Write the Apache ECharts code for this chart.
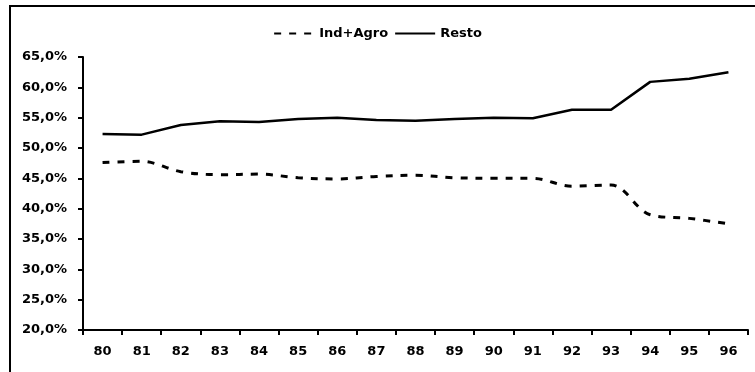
<!DOCTYPE html>
<html>
<head>
<meta charset="utf-8">
<script src="https://cdn.jsdelivr.net/npm/echarts@6/dist/echarts.min.js"></script>
<style>
  html, body { margin: 0; padding: 0; background: #fff; }
  #chart { width: 755px; height: 372px; }
</style>
</head>
<body>
<div id="chart"></div>
<script>
// Years (two-digit) on the category axis
const years = ['80','81','82','83','84','85','86','87','88','89','90','91','92','93','94','95','96'];
// Share of total, in percent
const indAgro = [47.6, 47.8, 46.1, 45.6, 45.7, 45.1, 44.9, 45.3, 45.5, 45.1, 45.0, 45.0, 43.7, 43.9, 39.0, 38.4, 37.5];
const resto  = [52.3, 52.2, 53.8, 54.4, 54.3, 54.8, 55.0, 54.6, 54.5, 54.8, 55.0, 54.9, 56.3, 56.3, 60.9, 61.4, 62.5];
// Value axis range
const yMin = 20, yMax = 65, yStep = 5;

const font = 'DejaVu Sans';
const chart = echarts.init(document.getElementById('chart'), null, { renderer: 'canvas' });

chart.setOption({
  animation: false,
  backgroundColor: '#fff',
  graphic: [{
    type: 'rect',
    shape: { x: 10, y: 6, width: 900, height: 500 },
    style: { fill: 'none', stroke: '#000', lineWidth: 2 },
    silent: true
  }],
  legend: {
    top: 22,
    left: 'center',
    itemWidth: 40,
    itemHeight: 12,
    itemGap: 6,
    itemStyle: { opacity: 0, borderWidth: 0 },
    textStyle: { fontFamily: font, fontWeight: 'bold', fontSize: 13, color: '#000' },
    data: ['Ind+Agro', 'Resto']
  },
  grid: { left: 83, right: 7, top: 57, bottom: 42, containLabel: false },
  xAxis: {
    type: 'category',
    data: years,
    boundaryGap: true,
    axisLine: { lineStyle: { color: '#000', width: 2 } },
    axisTick: { show: true, length: 5, lineStyle: { color: '#000', width: 2 } },
    axisLabel: { margin: 15, color: '#000', fontFamily: font, fontWeight: 'bold', fontSize: 13 },
    splitLine: { show: false }
  },
  yAxis: {
    type: 'value',
    min: yMin,
    max: yMax,
    interval: yStep,
    axisLine: { show: true, lineStyle: { color: '#000', width: 2 } },
    axisTick: { show: true, length: 5, lineStyle: { color: '#000', width: 2 } },
    axisLabel: {
      margin: 16,
      padding: [6, 0, 0, 0],
      color: '#000',
      fontFamily: font,
      fontWeight: 'bold',
      fontSize: 13,
      formatter: v => v.toFixed(1).replace('.', ',') + '%'
    },
    splitLine: { show: false }
  },
  series: [
    {
      name: 'Ind+Agro',
      type: 'line',
      data: indAgro,
      smooth: 0.35,
      symbol: 'none',
      lineStyle: { color: '#000', width: 3, type: [7, 8] },
      itemStyle: { color: '#000' }
    },
    {
      name: 'Resto',
      type: 'line',
      data: resto,
      symbol: 'none',
      lineStyle: { color: '#000', width: 2.5, type: 'solid' },
      itemStyle: { color: '#000' }
    }
  ]
});
</script>
</body>
</html>
